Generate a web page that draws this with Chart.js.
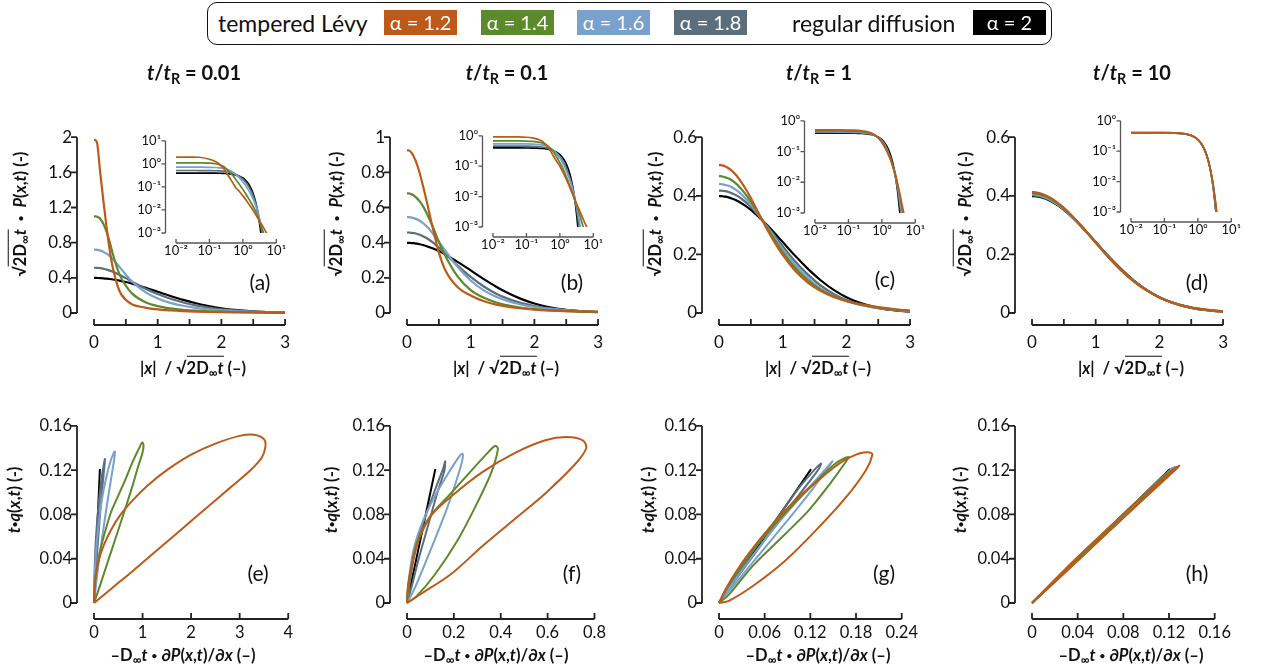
<!DOCTYPE html>
<html>
<head>
<meta charset="utf-8">
<title>tempered Lévy vs regular diffusion</title>
<script src="https://cdn.jsdelivr.net/npm/chart.js@4.4.1/dist/chart.umd.min.js"></script>
<style>
  body { margin:0; width:1263px; height:672px; position:relative; overflow:hidden; background:#fff;
         font-family: Lato, "DejaVu Sans", sans-serif; color:#111; }
  canvas { position:absolute; }
  .t { position:absolute; white-space:nowrap; line-height:1; }
  .ttl { font-size:20px; font-weight:700; transform:translateX(-50%); }
  .ax { font-size:16.5px; font-weight:700; transform:translate(-50%,-50%); }
  .axv { font-size:16.5px; font-weight:700; transform:translate(-50%,-50%) rotate(-90deg); }
  .let { font-size:21px; transform:translate(-50%,-50%); }
  sub { font-size:0.72em; vertical-align:-0.3em; line-height:0; }
  .ov { border-top:1.6px solid #111; padding-top:1px; }
  .dot { font-size:0.6em; vertical-align:0.2em; }
  #legend { position:absolute; left:207px; top:2px; width:843px; height:41px; border:1.6px solid #111; border-radius:10px; }
  .sw { position:absolute; top:10px; height:25px; width:73px; color:#fff; font-size:20px; text-align:center; line-height:25px; }
  .lt { position:absolute; top:12px; font-size:23px; line-height:22px; }
</style>
</head>
<body>
<div id="legend"></div>
<script>
// ---------------- data ----------------
const alphaLabels = ['α = 1.2', 'α = 1.4', 'α = 1.6', 'α = 1.8', 'α = 2'];
const lineColors = ['#bd5a1a', '#5b8a2b', '#7aa1cd', '#5b6e7b', '#000000'];
const timeRatios = ['0.01', '0.1', '1', '10'];
const panelLetters = ['a', 'b', 'c', 'd', 'e', 'f', 'g', 'h'];

// |x| / sqrt(2 D t) positions shared by every profile
const xs = [0, 0.01, 0.03, 0.05, 0.1, 0.15, 0.2, 0.25, 0.3, 0.4, 0.5, 0.6, 0.8, 1.0, 1.2, 1.4, 1.6, 1.8, 2.0, 2.2, 2.5, 2.8, 3.0, 3.5, 4.0, 4.5, 5.0, 5.5, 6.0, 7.0];

// regular diffusion (same in all four time columns)
const pGauss = [0.399, 0.399, 0.399, 0.3984, 0.397, 0.3945, 0.391, 0.3867, 0.3814, 0.3683, 0.3521, 0.3332, 0.2897, 0.242, 0.1942, 0.1497, 0.1109, 0.079, 0.054, 0.0355, 0.0175, 0.0079, 0.0044, 0.00087, 0.00013, 0.000016, 0.0000015, 1e-7, 1e-8, 1e-11];

// t/tR = 0.01
const pA12 = [1.97, 1.97, 1.96, 1.93, 1.58, 1.26, 0.96, 0.70, 0.50, 0.25, 0.15, 0.097, 0.062, 0.041, 0.029, 0.021, 0.016, 0.0125, 0.0098, 0.0079, 0.0059, 0.0044, 0.0037, 0.0026, 0.0019, 0.0014, 0.00105, 0.0008, 0.0006, 0.0003];
const pA14 = [1.10, 1.10, 1.10, 1.095, 1.07, 1.01, 0.92, 0.80, 0.66, 0.44, 0.31, 0.22, 0.125, 0.078, 0.052, 0.036, 0.026, 0.0195, 0.0148, 0.0115, 0.0079, 0.0052, 0.0039, 0.002, 0.00115, 0.0007, 0.00042, 0.00025, 0.00015, 0.00005];
const pA16 = [0.72, 0.72, 0.72, 0.718, 0.71, 0.695, 0.675, 0.645, 0.61, 0.525, 0.435, 0.355, 0.24, 0.165, 0.115, 0.082, 0.059, 0.043, 0.031, 0.0225, 0.0135, 0.0078, 0.0052, 0.0022, 0.0011, 0.0005, 0.00022, 0.0001, 0.00004, 0.000005];
const pA18 = [0.515, 0.515, 0.515, 0.513, 0.51, 0.503, 0.494, 0.482, 0.468, 0.435, 0.397, 0.357, 0.28, 0.215, 0.162, 0.12, 0.087, 0.062, 0.043, 0.03, 0.017, 0.0088, 0.0055, 0.0018, 0.00055, 0.00015, 0.00004, 0.00001, 0.000002, 1e-7];

// t/tR = 0.1
const pB12 = [0.925, 0.925, 0.924, 0.92, 0.895, 0.852, 0.795, 0.725, 0.65, 0.49, 0.345, 0.245, 0.145, 0.10, 0.068, 0.048, 0.035, 0.026, 0.0195, 0.015, 0.0108, 0.008, 0.0067, 0.0045, 0.0032, 0.0024, 0.0018, 0.0014, 0.00115, 0.0008];
const pB14 = [0.68, 0.68, 0.68, 0.678, 0.67, 0.655, 0.635, 0.608, 0.575, 0.495, 0.405, 0.325, 0.205, 0.13, 0.088, 0.06, 0.042, 0.03, 0.022, 0.0165, 0.011, 0.0077, 0.0061, 0.0037, 0.0024, 0.0015, 0.001, 0.00062, 0.0004, 0.00015];
const pB16 = [0.545, 0.545, 0.545, 0.544, 0.54, 0.534, 0.525, 0.512, 0.496, 0.455, 0.405, 0.355, 0.26, 0.185, 0.13, 0.092, 0.065, 0.047, 0.034, 0.025, 0.0145, 0.0088, 0.0063, 0.0028, 0.0012, 0.0005, 0.0002, 0.00008, 0.00003, 0.000004];
const pB18 = [0.458, 0.458, 0.458, 0.457, 0.455, 0.451, 0.445, 0.437, 0.428, 0.403, 0.372, 0.338, 0.268, 0.205, 0.152, 0.11, 0.079, 0.056, 0.04, 0.028, 0.016, 0.0088, 0.0057, 0.0019, 0.0006, 0.00017, 0.00004, 0.00001, 0.000002, 1e-7];

// t/tR = 1
const pC12 = [0.505, 0.505, 0.505, 0.504, 0.50, 0.494, 0.486, 0.475, 0.462, 0.43, 0.392, 0.35, 0.268, 0.198, 0.143, 0.103, 0.075, 0.055, 0.041, 0.031, 0.02, 0.0118, 0.0085, 0.0039, 0.0019, 0.00105, 0.0006, 0.0003, 0.00015, 0.00004];
const pC14 = [0.467, 0.467, 0.467, 0.466, 0.463, 0.459, 0.453, 0.445, 0.435, 0.41, 0.38, 0.346, 0.275, 0.208, 0.153, 0.111, 0.079, 0.057, 0.041, 0.03, 0.0185, 0.011, 0.0077, 0.0034, 0.0015, 0.0007, 0.0003, 0.00013, 0.00005, 0.00001];
const pC16 = [0.44, 0.44, 0.44, 0.439, 0.437, 0.434, 0.429, 0.423, 0.415, 0.395, 0.37, 0.342, 0.28, 0.218, 0.163, 0.118, 0.083, 0.058, 0.04, 0.028, 0.017, 0.0098, 0.0066, 0.0025, 0.0009, 0.0003, 0.0001, 0.00003, 0.00001, 1e-6];
const pC18 = [0.418, 0.418, 0.418, 0.417, 0.416, 0.413, 0.409, 0.404, 0.398, 0.382, 0.362, 0.338, 0.284, 0.228, 0.175, 0.13, 0.093, 0.065, 0.044, 0.029, 0.0165, 0.0088, 0.0056, 0.0017, 0.0005, 0.00012, 0.00003, 5e-6, 1e-6, 1e-7];

// t/tR = 10
const pD12 = [0.413, 0.413, 0.413, 0.412, 0.41, 0.407, 0.403, 0.398, 0.392, 0.377, 0.359, 0.338, 0.291, 0.24, 0.19, 0.145, 0.107, 0.077, 0.053, 0.036, 0.019, 0.0095, 0.0058, 0.0016, 0.0004, 0.0001, 0.00002, 4e-6, 7e-7, 2e-8];
const pD14 = [0.409, 0.409, 0.409, 0.408, 0.406, 0.403, 0.399, 0.394, 0.388, 0.374, 0.357, 0.337, 0.291, 0.241, 0.191, 0.146, 0.108, 0.077, 0.053, 0.036, 0.0185, 0.0091, 0.0054, 0.0014, 0.0003, 0.00006, 0.00001, 2e-6, 3e-7, 1e-8];
const pD16 = [0.405, 0.405, 0.405, 0.404, 0.402, 0.399, 0.395, 0.391, 0.385, 0.371, 0.355, 0.335, 0.29, 0.241, 0.192, 0.147, 0.109, 0.078, 0.0535, 0.0355, 0.018, 0.0086, 0.005, 0.0012, 0.00022, 0.00004, 5e-6, 6e-7, 6e-8, 1e-9];
const pD18 = [0.402, 0.402, 0.402, 0.401, 0.399, 0.397, 0.393, 0.389, 0.383, 0.37, 0.353, 0.334, 0.29, 0.242, 0.193, 0.148, 0.11, 0.0785, 0.054, 0.0355, 0.0178, 0.0082, 0.0047, 0.001, 0.00016, 0.00002, 2e-6, 2e-7, 2e-8, 1e-10];

// flux loops: g = -D t dP/dx, q = t q(x,t), traced along x
const gGauss = [0, 0.121], qGauss = [0, 0.121];

const gE12 = [0, 0.01, 0.04, 0.1, 0.2, 0.35, 0.55, 0.8, 1.1, 1.5, 2.0, 2.5, 3.0, 3.3, 3.5, 3.53, 3.45, 3.2, 2.8, 2.4, 2.0, 1.6, 1.2, 0.8, 0.4, 0.1, 0];
const qE12 = [0, 0.012, 0.026, 0.039, 0.052, 0.066, 0.08, 0.093, 0.106, 0.12, 0.134, 0.144, 0.151, 0.152, 0.148, 0.141, 0.131, 0.119, 0.104, 0.089, 0.074, 0.059, 0.044, 0.029, 0.0145, 0.0036, 0];
const gE14 = [0, 0.01, 0.04, 0.1, 0.2, 0.35, 0.5, 0.65, 0.8, 0.92, 0.99, 1.02, 1.0, 0.9, 0.78, 0.65, 0.5, 0.35, 0.2, 0.08, 0];
const qE14 = [0, 0.012, 0.026, 0.042, 0.06, 0.082, 0.097, 0.112, 0.128, 0.139, 0.145, 0.143, 0.136, 0.122, 0.104, 0.086, 0.066, 0.046, 0.026, 0.01, 0];
const gE16 = [0, 0.01, 0.04, 0.09, 0.16, 0.25, 0.34, 0.4, 0.43, 0.42, 0.37, 0.3, 0.22, 0.14, 0.07, 0.02, 0];
const qE16 = [0, 0.02, 0.045, 0.07, 0.093, 0.113, 0.128, 0.135, 0.137, 0.131, 0.117, 0.098, 0.075, 0.05, 0.027, 0.008, 0];
const gE18 = [0, 0.01, 0.03, 0.07, 0.12, 0.17, 0.21, 0.225, 0.215, 0.18, 0.13, 0.08, 0.035, 0.01, 0];
const qE18 = [0, 0.025, 0.05, 0.077, 0.1, 0.117, 0.127, 0.13, 0.124, 0.108, 0.083, 0.055, 0.026, 0.007, 0];

const gF12 = [0, 0.003, 0.02, 0.054, 0.107, 0.187, 0.32, 0.455, 0.59, 0.68, 0.75, 0.765, 0.72, 0.59, 0.455, 0.32, 0.187, 0.054, 0];
const qF12 = [0, 0.013, 0.034, 0.059, 0.08, 0.096, 0.118, 0.135, 0.147, 0.15, 0.147, 0.14, 0.126, 0.099, 0.075, 0.051, 0.026, 0.0075, 0];
const gF14 = [0, 0.007, 0.04, 0.094, 0.187, 0.268, 0.35, 0.378, 0.388, 0.36, 0.294, 0.214, 0.12, 0.04, 0];
const qF14 = [0, 0.018, 0.053, 0.077, 0.099, 0.118, 0.137, 0.142, 0.139, 0.118, 0.088, 0.056, 0.026, 0.006, 0];
const gF16 = [0, 0.01, 0.03, 0.07, 0.12, 0.17, 0.215, 0.237, 0.235, 0.21, 0.17, 0.12, 0.07, 0.03, 0];
const qF16 = [0, 0.025, 0.05, 0.075, 0.097, 0.115, 0.13, 0.135, 0.128, 0.11, 0.085, 0.058, 0.032, 0.012, 0];
const gF18 = [0, 0.02, 0.05, 0.09, 0.13, 0.155, 0.163, 0.16, 0.13, 0.09, 0.05, 0.02, 0];
const qF18 = [0, 0.03, 0.06, 0.085, 0.108, 0.122, 0.128, 0.12, 0.1, 0.07, 0.04, 0.015, 0];

const gG12 = [0, 0.009, 0.025, 0.045, 0.065, 0.085, 0.105, 0.129, 0.15, 0.165, 0.18, 0.19, 0.198, 0.2015, 0.193, 0.165, 0.125, 0.085, 0.045, 0.013, 0];
const qG12 = [0, 0.013, 0.031, 0.05, 0.067, 0.082, 0.096, 0.11, 0.122, 0.129, 0.134, 0.136, 0.136, 0.134, 0.12, 0.094, 0.064, 0.037, 0.0156, 0.002, 0];
const gG14 = [0, 0.011, 0.045, 0.085, 0.125, 0.153, 0.17, 0.165, 0.145, 0.117, 0.085, 0.045, 0.013, 0];
const qG14 = [0, 0.014, 0.048, 0.08, 0.108, 0.126, 0.132, 0.126, 0.107, 0.083, 0.061, 0.034, 0.0075, 0];
const gG16 = [0, 0.02, 0.05, 0.08, 0.11, 0.135, 0.149, 0.145, 0.125, 0.1, 0.07, 0.04, 0.015, 0];
const qG16 = [0, 0.02, 0.048, 0.074, 0.098, 0.117, 0.128, 0.124, 0.105, 0.083, 0.058, 0.033, 0.012, 0];
const gG18 = [0, 0.02, 0.05, 0.08, 0.105, 0.125, 0.134, 0.13, 0.11, 0.085, 0.055, 0.025, 0];
const qG18 = [0, 0.022, 0.052, 0.08, 0.104, 0.12, 0.126, 0.12, 0.102, 0.08, 0.052, 0.024, 0];

const gH12 = [0, 0.03, 0.06, 0.09, 0.115, 0.129, 0.12, 0.09, 0.06, 0.03, 0];
const qH12 = [0, 0.0315, 0.061, 0.09, 0.113, 0.124, 0.115, 0.0865, 0.0575, 0.0285, 0];
const gH14 = [0, 0.03, 0.06, 0.09, 0.114, 0.127, 0.118, 0.09, 0.06, 0.03, 0];
const qH14 = [0, 0.031, 0.0605, 0.09, 0.113, 0.123, 0.115, 0.087, 0.058, 0.029, 0];
const gH16 = [0, 0.03, 0.06, 0.09, 0.113, 0.125, 0.117, 0.09, 0.06, 0.03, 0];
const qH16 = [0, 0.0305, 0.0605, 0.09, 0.112, 0.123, 0.115, 0.088, 0.0585, 0.0295, 0];
const gH18 = [0, 0.03, 0.06, 0.09, 0.112, 0.123, 0.116, 0.09, 0.06, 0.03, 0];
const qH18 = [0, 0.0303, 0.0603, 0.09, 0.112, 0.122, 0.115, 0.089, 0.059, 0.0297, 0];

// tick values
const xTicksTop = [0, 0.5, 1, 1.5, 2, 2.5, 3];
const yTicksTop = [[0, 0.4, 0.8, 1.2, 1.6, 2], [0, 0.2, 0.4, 0.6, 0.8, 1], [0, 0.2, 0.4, 0.6], [0, 0.2, 0.4, 0.6]];
const yTicksBottom = [0, 0.04, 0.08, 0.12, 0.16];
const xTicksBottom = [[0, 1, 2, 3, 4], [0, 0.2, 0.4, 0.6, 0.8], [0, 0.06, 0.12, 0.18, 0.24], [0, 0.04, 0.08, 0.12, 0.16]];
const xTicksInset = [0.01, 0.1, 1, 10];
const yTicksInset = [[0.001, 0.01, 0.1, 1, 10], [0.001, 0.01, 0.1, 1], [0.001, 0.01, 0.1, 1], [0.001, 0.01, 0.1, 1]];

const profiles = [
  [pA12, pA14, pA16, pA18, pGauss],
  [pB12, pB14, pB16, pB18, pGauss],
  [pC12, pC14, pC16, pC18, pGauss],
  [pD12, pD14, pD16, pD18, pGauss]
];
const loops = [
  [[gE12, qE12], [gE14, qE14], [gE16, qE16], [gE18, qE18], [gGauss, qGauss]],
  [[gF12, qF12], [gF14, qF14], [gF16, qF16], [gF18, qF18], [gGauss, qGauss]],
  [[gG12, qG12], [gG14, qG14], [gG16, qG16], [gG18, qG18], [gGauss, qGauss]],
  [[gH12, qH12], [gH14, qH14], [gH16, qH16], [gH18, qH18], [gGauss, qGauss]]
];

// ---------------- layout ----------------
const colLeft = [94, 407, 719, 1032];
const plotW = 199;
const topT = 115, topB = 313, botT = 404, botB = 603;
const insetRects = [[176, 127, 282, 233], [493, 122, 599, 227], [815, 107, 921, 213], [1131, 107, 1237, 212]];
const supLabel = {'-3': '10⁻³', '-2': '10⁻²', '-1': '10⁻¹', '0': '10⁰', '1': '10¹'};

// axes drawn detached from the plot area, like the original figure
const offsetAxes = {
  id: 'offsetAxes',
  afterDraw(chart, args, o) {
    if (!o || !o.dx) return;
    const {ctx, chartArea, scales: {x, y}} = chart;
    const ax = chartArea.left - o.dx, ay = chartArea.bottom + o.dy;
    ctx.save();
    ctx.strokeStyle = o.color;
    ctx.lineWidth = o.width;
    ctx.beginPath();
    ctx.moveTo(ax, y.getPixelForValue(y.min));
    ctx.lineTo(ax, y.getPixelForValue(y.max));
    y.ticks.forEach(t => {
      const p = y.getPixelForValue(t.value);
      ctx.moveTo(ax, p); ctx.lineTo(ax - o.len, p);
    });
    ctx.moveTo(x.getPixelForValue(x.min), ay);
    ctx.lineTo(x.getPixelForValue(x.max), ay);
    x.ticks.forEach(t => {
      const p = x.getPixelForValue(t.value);
      ctx.moveTo(p, ay); ctx.lineTo(p, ay - o.len);
    });
    ctx.stroke();
    ctx.restore();
  }
};
Chart.register(offsetAxes);
Chart.defaults.font.family = 'Lato, "DejaVu Sans", sans-serif';

function addChart(rect, pad, datasets, xOpt, yOpt, axis) {
  const [L, T, R, B] = rect;
  const cv = document.createElement('canvas');
  const w = R - L + pad.l + pad.r, h = B - T + pad.t + pad.b;
  cv.width = w; cv.height = h;
  cv.style.left = (L - pad.l) + 'px';
  cv.style.top = (T - pad.t) + 'px';
  cv.style.width = w + 'px';
  cv.style.height = h + 'px';
  document.body.appendChild(cv);
  const scale = (o, isX) => ({
    type: o.type || 'linear', min: o.min, max: o.max, bounds: 'data',
    grid: {display: false, drawTicks: false},
    border: {display: false},
    ticks: {padding: o.pad, autoSkip: false, maxRotation: 0, color: '#111', font: {size: o.font}, callback: o.fmt},
    afterBuildTicks: s => { s.ticks = o.ticks.map(v => ({value: v})); },
    afterFit: s => { if (isX) s.height = pad.b; else s.width = pad.l; }
  });
  return new Chart(cv, {
    type: 'line',
    data: {datasets},
    options: {
      responsive: false, animation: false, devicePixelRatio: 1, events: [],
      layout: {padding: {left: 0, top: pad.t, right: pad.r, bottom: 0}},
      plugins: {legend: {display: false}, tooltip: {enabled: false}, offsetAxes: axis},
      scales: {x: scale(xOpt, true), y: scale(yOpt, false)}
    }
  });
}

const fmtNum = v => String(+Number(v).toFixed(3));
const fmtInt = v => Math.abs(v - Math.round(v)) < 1e-9 ? String(Math.round(v)) : '';
const fmtLog = v => supLabel[String(Math.round(Math.log10(v)))] || '';

function profileSets(prof, width, logX, clip) {
  return prof.map((p, i) => ({
    data: xs.map((x, k) => ({x, y: p[k]})).filter(pt => !logX || pt.x > 0),
    borderColor: lineColors[i], borderWidth: width, pointRadius: 0, fill: false,
    cubicInterpolationMode: 'monotone', clip
  }));
}
function loopSets(set) {
  return set.map(([g, q], i) => ({
    data: g.map((v, k) => ({x: v, y: q[k]})),
    borderColor: lineColors[i], borderWidth: 2, pointRadius: 0, fill: false,
    tension: 0.3, clip: 4
  }));
}

const mainAxis = {dx: 17, dy: 12, len: 6, color: '#222', width: 1.8};
const loopAxis = {dx: 17, dy: 16, len: 6, color: '#222', width: 1.8};
const insetAxis = {dx: 10.5, dy: 10, len: 4, color: '#555', width: 1.3};

for (let c = 0; c < 4; c++) {
  const L = colLeft[c], R = L + plotW;
  const yt = yTicksTop[c];
  // density profiles
  addChart([L, topT, R, topB], {l: 64, r: 16, t: 10, b: 44},
    profileSets(profiles[c], 2.2, false, {left: 3, top: 3, right: 0, bottom: 3}),
    {min: 0, max: 3, ticks: xTicksTop, pad: 19, font: 17, fmt: fmtInt},
    {min: 0, max: yt[yt.length - 1], ticks: yt, pad: 22, font: 17, fmt: fmtNum},
    mainAxis);
  // flux vs gradient loops
  const xb = xTicksBottom[c];
  addChart([L, botT, R, botB], {l: 64, r: 20, t: 10, b: 44},
    loopSets(loops[c]),
    {min: 0, max: xb[xb.length - 1], ticks: xb, pad: 20, font: 16.5, fmt: fmtNum},
    {min: 0, max: 0.16, ticks: yTicksBottom, pad: 22, font: 16.5, fmt: fmtNum},
    loopAxis);
}
// log-log insets drawn last so they sit above the main panels
for (let c = 0; c < 4; c++) {
  const yi = yTicksInset[c];
  addChart(insetRects[c], {l: 44, r: 14, t: 9, b: 30},
    profileSets(profiles[c], 1.7, true, {left: 2, top: 2, right: 0, bottom: 0}),
    {type: 'logarithmic', min: 0.01, max: 10, ticks: xTicksInset, pad: 10, font: 13, fmt: fmtLog},
    {type: 'logarithmic', min: 0.001, max: yi[yi.length - 1], ticks: yi, pad: 15, font: 13, fmt: fmtLog},
    insetAxis);
}

// ---------------- text ----------------
function addText(cls, html, x, y) {
  const d = document.createElement('div');
  d.className = 't ' + cls;
  d.innerHTML = html;
  d.style.left = x + 'px';
  d.style.top = y + 'px';
  document.body.appendChild(d);
}
const yTitleTop = '√<span class="ov">2D<sub>∞</sub><i>t</i></span>&nbsp; <span class="dot">•</span> &nbsp;<i>P</i>(<i>x</i>,<i>t</i>) (-)';
const xTitleTop = '|<i>x</i>| &nbsp;/ √<span class="ov">2D<sub>∞</sub><i>t</i></span> (–)';
const yTitleBot = '<i>t</i><span class="dot">•</span><i>q</i>(<i>x</i>,<i>t</i>) (-)';
const xTitleBot = '–D<sub>∞</sub><i>t</i> <span class="dot">•</span> ∂<i>P</i>(<i>x</i>,<i>t</i>)/∂<i>x</i> (–)';
const yTitleTopX = [20, 336, 655, 965];
const yTitleBotX = [14, 331, 648, 960];
const xTitleBotX = [183, 496, 818, 1131];
const letterTopX = [260, 572, 885, 1197];
const letterBotX = [258, 572, 884, 1197];

for (let c = 0; c < 4; c++) {
  const L = colLeft[c];
  addText('ttl', '<i>t</i>/<i>t</i><sub>R</sub> = ' + timeRatios[c], L + 100, 62);
  addText('axv', yTitleTop, yTitleTopX[c], 214);
  addText('ax', xTitleTop, L + 99, 368);
  addText('axv', yTitleBot, yTitleBotX[c], 500);
  addText('ax', xTitleBot, xTitleBotX[c], 655);
  addText('let', '(' + panelLetters[c] + ')', letterTopX[c], c === 2 ? 278 : 281);
  addText('let', '(' + panelLetters[c + 4] + ')', letterBotX[c], 572);
}

// legend
const swatchX = [384, 481, 577, 674, 973];
addText('lt', 'tempered Lévy', 218, 12);
addText('lt', 'regular diffusion', 792, 12);
alphaLabels.forEach((lab, i) => {
  const d = document.createElement('div');
  d.className = 'sw';
  d.textContent = lab;
  d.style.left = swatchX[i] + 'px';
  d.style.background = lineColors[i];
  document.body.appendChild(d);
});
</script>
</body>
</html>
